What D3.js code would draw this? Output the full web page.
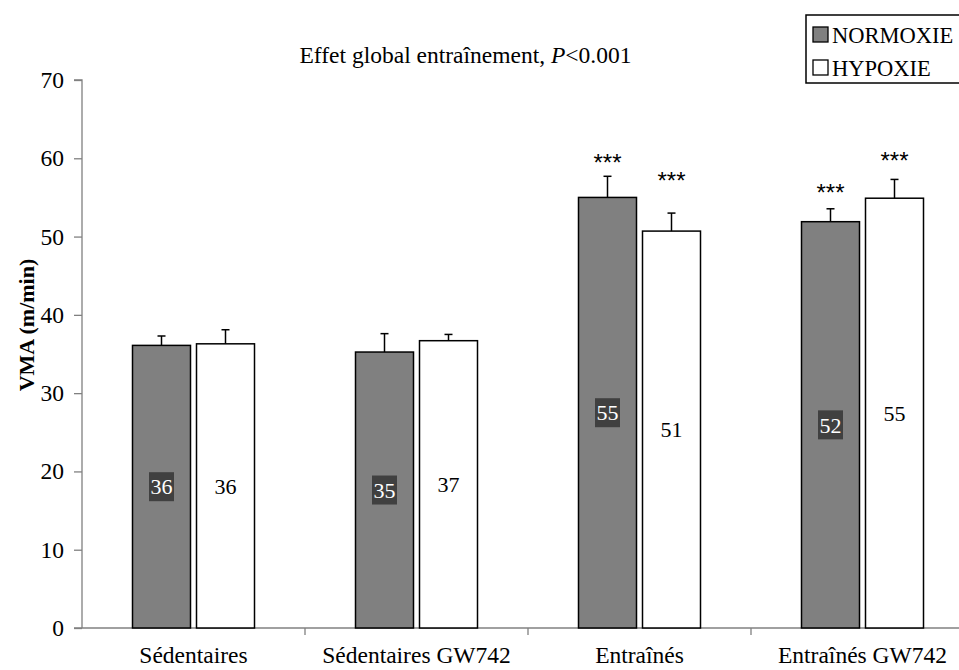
<!DOCTYPE html>
<html>
<head>
<meta charset="utf-8">
<script src="https://cdn.jsdelivr.net/npm/d3@7"></script>
<style>
  html, body { margin: 0; padding: 0; background: #fff; }
  svg { display: block; }
</style>
</head>
<body>
<svg id="chart" width="959" height="670"></svg>
<script>
// ---- data ----
const categories = ["Sédentaires", "Sédentaires GW742", "Entraînés", "Entraînés GW742"];
const seriesNames = ["NORMOXIE", "HYPOXIE"];
const normoxieValues = [36.1, 35.25, 55.0, 51.9];
const normoxieErrors = [1.2, 2.35, 2.7, 1.65];
const hypoxieValues = [36.3, 36.7, 50.7, 54.9];
const hypoxieErrors = [1.8, 0.8, 2.3, 2.4];
const normoxieStarAt = [null, null, 59.9, 56.1];   // level of "***" annotations
const hypoxieStarAt = [null, null, 57.6, 60.2];
const yTicks = [0, 10, 20, 30, 40, 50, 60, 70];
const titleText = "Effet global entraînement, ";
const yLabel = "VMA (m/min)";

// ---- layout ----
const SERIF = "'Liberation Serif', Tinos, 'Times New Roman', Times, 'DejaVu Serif', serif";
const SANS = "'Liberation Sans', Arimo, Arial, sans-serif";
const FS = 23.5;
const svg = d3.select("#chart").attr("font-family", SERIF);
const plot = { left: 82, right: 974, top: 80, bottom: 628 };
const fillColors = { NORMOXIE: "#808080", HYPOXIE: "#ffffff" };

const x0 = d3.scaleBand().domain(categories).range([plot.left, plot.right]).padding(0);
const pairOffset = 50.5;
const x1 = d3.scaleBand().domain(seriesNames)
  .range([pairOffset, x0.bandwidth() - pairOffset])
  .paddingInner(6 / 64).paddingOuter(0);
const y = d3.scaleLinear().domain([0, 70]).range([plot.bottom, plot.top]);

const rows = [];
categories.forEach((c, i) => {
  rows.push({ cat: c, s: "NORMOXIE", v: normoxieValues[i], e: normoxieErrors[i], star: normoxieStarAt[i] });
  rows.push({ cat: c, s: "HYPOXIE", v: hypoxieValues[i], e: hypoxieErrors[i], star: hypoxieStarAt[i] });
});

// ---- axes ----
const axisColor = "#808080";
const yAxis = svg.append("g").attr("transform", `translate(${plot.left},0)`)
  .call(d3.axisLeft(y).tickValues(yTicks).tickSize(8).tickPadding(10).tickFormat(d3.format("d")));
yAxis.attr("font-family", SERIF).attr("font-size", FS);
yAxis.select(".domain").attr("stroke", axisColor).attr("stroke-width", 1.3).attr("d", `M-8,${plot.top}H0V${plot.bottom}`);
yAxis.selectAll(".tick line").attr("stroke", axisColor).attr("stroke-width", 1.3);
yAxis.selectAll(".tick text").attr("font-size", FS).attr("fill", "#000").attr("font-family", SERIF);

// x axis line
svg.append("line")
  .attr("x1", plot.left - 8).attr("x2", plot.right)
  .attr("y1", y(0)).attr("y2", y(0))
  .attr("stroke", axisColor).attr("stroke-width", 1.3);
// category boundary ticks
svg.append("g").selectAll("line")
  .data(categories.slice(1).concat(["__end"]))
  .join("line")
  .attr("x1", d => d === "__end" ? plot.right : x0(d))
  .attr("x2", d => d === "__end" ? plot.right : x0(d))
  .attr("y1", y(0)).attr("y2", y(0) + 7)
  .attr("stroke", axisColor).attr("stroke-width", 1.3);
// category labels
const xAxis = svg.append("g").attr("transform", `translate(0,${y(0)})`)
  .call(d3.axisBottom(x0).tickSize(0).tickPadding(18.5));
xAxis.attr("font-family", SERIF).attr("font-size", FS);
xAxis.select(".domain").remove();
xAxis.selectAll(".tick text").attr("font-size", FS).attr("fill", "#000")
  .attr("font-family", SERIF).attr("dy", "0.71em");

// ---- bars ----
const g = svg.append("g");
g.selectAll("rect.bar").data(rows).join("rect")
  .attr("class", "bar")
  .attr("x", d => x0(d.cat) + x1(d.s))
  .attr("y", d => y(d.v))
  .attr("width", x1.bandwidth())
  .attr("height", d => y(0) - y(d.v))
  .attr("fill", d => fillColors[d.s])
  .attr("stroke", "#000").attr("stroke-width", 1.5);

// error bars
const cx = d => x0(d.cat) + x1(d.s) + x1.bandwidth() / 2;
g.selectAll("line.err").data(rows).join("line")
  .attr("class", "err")
  .attr("x1", cx).attr("x2", cx)
  .attr("y1", d => y(d.v)).attr("y2", d => y(d.v + d.e))
  .attr("stroke", "#000").attr("stroke-width", 1.5);
g.selectAll("line.cap").data(rows).join("line")
  .attr("class", "cap")
  .attr("x1", d => cx(d) - 4).attr("x2", d => cx(d) + 4)
  .attr("y1", d => y(d.v + d.e)).attr("y2", d => y(d.v + d.e))
  .attr("stroke", "#000").attr("stroke-width", 1.5);

// value labels
const fmt = d3.format(".0f");
g.selectAll("rect.lblbox").data(rows.filter(d => d.s === "NORMOXIE")).join("rect")
  .attr("class", "lblbox")
  .attr("x", d => cx(d) - 12.5)
  .attr("y", d => y(d.v / 2) - 14.5)
  .attr("width", 25).attr("height", 29)
  .attr("fill", "#404040");
g.selectAll("text.lbl").data(rows).join("text")
  .attr("class", "lbl")
  .attr("x", cx)
  .attr("y", d => y(d.v / 2))
  .attr("dy", "0.35em")
  .attr("text-anchor", "middle")
  .attr("font-family", SERIF)
  .attr("font-size", 22)
  .attr("fill", d => d.s === "NORMOXIE" ? "#fff" : "#000")
  .text(d => fmt(d.v));

// significance stars
g.selectAll("text.star").data(rows.filter(d => d.star != null)).join("text")
  .attr("class", "star")
  .attr("x", cx)
  .attr("y", d => y(d.star) + 12)
  .attr("text-anchor", "middle")
  .attr("font-family", SANS)
  .attr("font-size", 24)
  .text("***");

// ---- title ----
const title = svg.append("text")
  .attr("x", 465.5).attr("y", 63)
  .attr("text-anchor", "middle")
  .attr("font-family", SERIF)
  .attr("font-size", FS);
title.append("tspan").text(titleText);
title.append("tspan").attr("font-style", "italic").text("P");
title.append("tspan").text("<0.001");

// ---- y label ----
svg.append("text")
  .attr("transform", "translate(34,325) rotate(-90)")
  .attr("text-anchor", "middle")
  .attr("font-family", SERIF)
  .attr("font-size", 22)
  .attr("font-weight", "bold")
  .text(yLabel);

// ---- legend ----
const leg = svg.append("g");
leg.append("rect").attr("x", 806).attr("y", 15).attr("width", 200).attr("height", 68)
  .attr("fill", "#fff").attr("stroke", "#000").attr("stroke-width", 1.5);
const legRows = leg.selectAll("g.item").data(seriesNames).join("g")
  .attr("class", "item")
  .attr("transform", (d, i) => `translate(813,${27 + i * 33})`);
legRows.append("rect").attr("width", 15).attr("height", 15)
  .attr("fill", d => fillColors[d]).attr("stroke", "#000").attr("stroke-width", 1.3);
legRows.append("text").attr("x", 19).attr("y", 16)
  .attr("font-family", SERIF)
  .attr("font-size", 22.5).text(d => d);
</script>
</body>
</html>
